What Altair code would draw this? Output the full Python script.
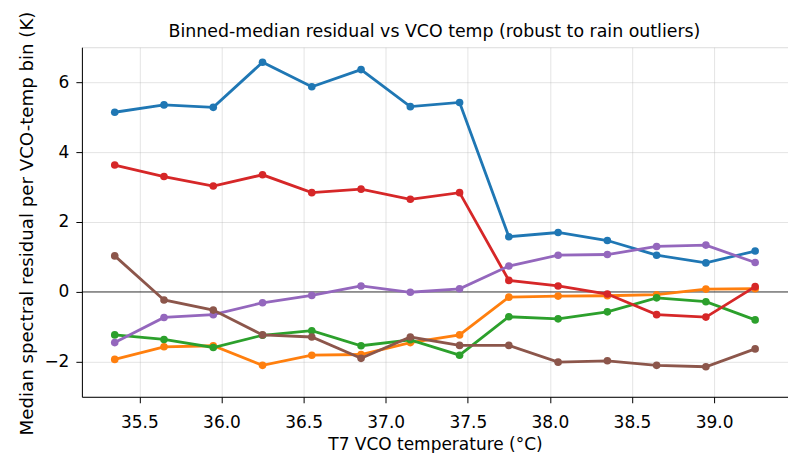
import altair as alt
import pandas as pd

# Bin centres of the VCO temperature (°C)
vco_temp = [35.35, 35.65, 35.95, 36.25, 36.55, 36.85, 37.15,
            37.45, 37.75, 38.05, 38.35, 38.65, 38.95, 39.25]

# Median spectral residual (K) per bin, one list per channel
ch1 = [5.14, 5.35, 5.28, 6.57, 5.87, 6.36, 5.30, 5.42, 1.58, 1.70, 1.47, 1.05, 0.83, 1.17]
ch2 = [-1.93, -1.57, -1.54, -2.10, -1.81, -1.79, -1.45, -1.23, -0.15, -0.12, -0.11, -0.08, 0.08, 0.09]
ch3 = [-1.23, -1.36, -1.59, -1.24, -1.11, -1.54, -1.37, -1.81, -0.71, -0.77, -0.57, -0.17, -0.28, -0.80]
ch4 = [3.63, 3.30, 3.03, 3.35, 2.84, 2.94, 2.65, 2.84, 0.33, 0.17, -0.06, -0.65, -0.72, 0.15]
ch5 = [-1.45, -0.73, -0.65, -0.31, -0.10, 0.17, -0.01, 0.09, 0.74, 1.05, 1.07, 1.30, 1.34, 0.84]
ch6 = [1.03, -0.23, -0.52, -1.23, -1.29, -1.90, -1.29, -1.53, -1.53, -2.01, -1.97, -2.10, -2.14, -1.63]

channels = ["ch1", "ch2", "ch3", "ch4", "ch5", "ch6"]
values = [ch1, ch2, ch3, ch4, ch5, ch6]
colors = ["#1f77b4", "#ff7f0e", "#2ca02c", "#d62728", "#9467bd", "#8c564b"]

x_ticks = [35.5, 36.0, 36.5, 37.0, 37.5, 38.0, 38.5, 39.0]
y_ticks = [-2, 0, 2, 4, 6]

title_text = "Binned-median residual vs VCO temp (robust to rain outliers)"

FONT = "DejaVu Sans"
PLOT_W, PLOT_H = 707, 350

x_scale = alt.Scale(domain=[35.15, 39.45], nice=False, zero=False)
y_scale = alt.Scale(domain=[-3, 7], nice=False, zero=False)

x_axis = alt.Axis(
    values=x_ticks, format=".1f", title="T7 VCO temperature (°C)",
    grid=True, gridColor="#b0b0b0", gridOpacity=0.35, gridWidth=1,
    tickSize=6, tickColor="black", domainColor="black",
    labelFontSize=17, labelFont=FONT, labelColor="black", labelPadding=12,
    titleFontSize=17, titleFont=FONT, titleColor="black", titleFontWeight="normal",
    titleY=53, titleBaseline="alphabetic",
)
y_axis = alt.Axis(
    values=y_ticks, format="d",
    title="Median spectral residual per VCO-temp bin (K)",
    grid=True, gridColor="#b0b0b0", gridOpacity=0.35, gridWidth=1,
    tickSize=6, tickColor="black", domainColor="black",
    labelFontSize=17, labelFont=FONT, labelColor="black", labelPadding=7,
    titleFontSize=18.2, titleFont=FONT, titleColor="black", titleFontWeight="normal",
    titleX=-54, titleY=176, titleBaseline="middle",
)

zero_line = alt.Chart(pd.DataFrame({"y": [0]})).mark_rule(
    color="black", strokeWidth=1, opacity=0.75
).encode(
    y=alt.Y("y:Q", scale=y_scale, axis=y_axis),
    x=alt.value(0),
    x2=alt.value(PLOT_W),
)

layers = [zero_line]
for name, vals, color in zip(channels, values, colors):
    df = pd.DataFrame({"vco_temp": vco_temp, "residual": vals, "channel": name})
    base = alt.Chart(df).encode(
        x=alt.X("vco_temp:Q", scale=x_scale, axis=x_axis),
        y=alt.Y("residual:Q", scale=y_scale, axis=y_axis),
    )
    layers.append(base.mark_line(color=color, strokeWidth=2.8))
    layers.append(base.mark_circle(color=color, size=58, opacity=1))

# Chart title, centred over the axes
title_layer = alt.Chart(pd.DataFrame({"t": [title_text]})).mark_text(
    font=FONT, fontSize=17.4, color="black", align="center", baseline="alphabetic"
).encode(
    text="t:N",
    x=alt.value(353),
    y=alt.value(-10.5),
)
layers.append(title_layer)

chart = alt.layer(*layers).properties(
    width=PLOT_W,
    height=PLOT_H,
    autosize=alt.AutoSizeParams(type="none"),
    padding={"left": 82, "top": 47, "right": 0, "bottom": 56},
).configure_view(
    stroke="black", strokeWidth=1.2
).configure(background="white")

chart.save("out.html", embed_options={"renderer": "svg", "actions": False})
